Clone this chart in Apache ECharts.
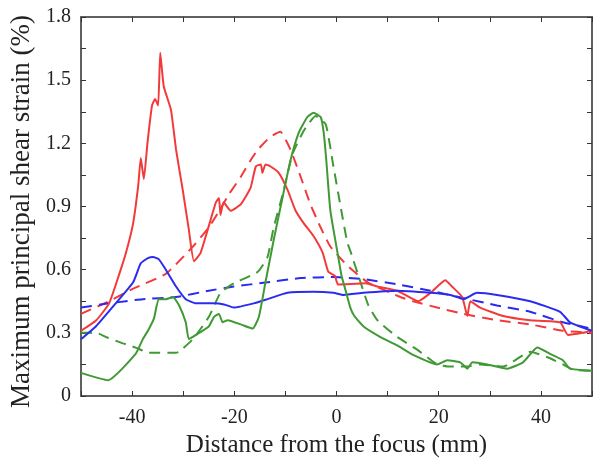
<!DOCTYPE html>
<html><head><meta charset="utf-8">
<script src="https://cdn.jsdelivr.net/npm/echarts@6/dist/echarts.min.js"></script>
<style>html,body{margin:0;padding:0;background:#fff}#c{width:601px;height:465px}</style>
</head><body><div id="c"></div>
<script>
const xTicks = [-40, -20, 0, 20, 40];
const yTicks = [0, 0.3, 0.6, 0.9, 1.2, 1.5, 1.8];

const redSolid = [[-50,0.31],[-47,0.36],[-44.5,0.44],[-42.5,0.58],[-41.2,0.68],[-39.8,0.82],[-38.8,1.0],[-38.3,1.13],[-37.7,1.03],[-37,1.2],[-36.1,1.38],[-35.5,1.41],[-34.9,1.38],[-34.5,1.63],[-33.8,1.47],[-32.4,1.36],[-31.4,1.17],[-30.1,0.98],[-28.9,0.79],[-27.9,0.64],[-26.6,0.68],[-25.2,0.79],[-23.6,0.92],[-23,0.94],[-22.7,0.86],[-22.1,0.92],[-20.7,0.88],[-18.75,0.91],[-16.8,0.99],[-15.8,1.09],[-14.8,1.10],[-14.5,1.06],[-13.9,1.10],[-12.9,1.09],[-11.3,1.06],[-9.6,0.98],[-8,0.88],[-6.4,0.82],[-4.5,0.76],[-2.7,0.68],[-1.6,0.59],[-0.3,0.57],[0.3,0.53],[5.7,0.535],[8,0.52],[11.9,0.50],[16,0.45],[18.4,0.49],[21.3,0.55],[22.6,0.52],[24.6,0.47],[25.6,0.38],[26.2,0.45],[28.1,0.42],[32.6,0.38],[37.9,0.36],[43.75,0.35],[45.3,0.29],[48.2,0.30],[50,0.31]];
const redDashed = [[-50,0.39],[-44.5,0.45],[-39.8,0.51],[-33.4,0.58],[-28.1,0.71],[-25,0.80],[-22.7,0.89],[-21,0.96],[-18.75,1.04],[-16.8,1.12],[-15.4,1.17],[-13,1.23],[-11,1.255],[-9,1.17],[-7,1.04],[-5.1,0.91],[-3.1,0.80],[-1.2,0.71],[2.1,0.62],[6.1,0.54],[12.5,0.47],[15,0.45],[19.7,0.42],[24.8,0.39],[31.4,0.36],[37.9,0.34],[44.3,0.31],[50,0.30]];
const blueSolid = [[-50,0.27],[-47.1,0.33],[-43.2,0.44],[-39.8,0.54],[-38.3,0.63],[-36.9,0.655],[-35.9,0.66],[-34.8,0.65],[-33.4,0.60],[-31.4,0.52],[-29.5,0.46],[-27.5,0.44],[-24.2,0.44],[-22,0.435],[-20.1,0.42],[-16.2,0.44],[-13.5,0.46],[-9.6,0.49],[-4.5,0.495],[-0.6,0.49],[1.4,0.48],[5.3,0.49],[11.9,0.50],[18.4,0.49],[22.3,0.48],[24.8,0.46],[27.5,0.49],[31.4,0.48],[37.9,0.45],[43.75,0.40],[45.7,0.35],[50,0.31]];
const blueDashed = [[-50,0.42],[-44.5,0.44],[-37.9,0.46],[-31.4,0.47],[-25,0.50],[-20.1,0.52],[-13.5,0.54],[-7,0.56],[-0.6,0.565],[5.3,0.555],[11.9,0.53],[18.4,0.50],[24.8,0.465],[31.4,0.43],[37.9,0.40],[44.3,0.35],[50,0.32]];
const greenSolid = [[-50,0.11],[-44.7,0.075],[-39.3,0.20],[-37.9,0.27],[-36.9,0.31],[-35.7,0.37],[-34.8,0.46],[-33.4,0.46],[-32,0.47],[-30.8,0.43],[-29.5,0.35],[-28.9,0.27],[-27.5,0.29],[-25,0.33],[-24,0.375],[-23,0.39],[-22.3,0.35],[-21.3,0.36],[-18.75,0.34],[-16.4,0.32],[-15.2,0.375],[-13.9,0.54],[-12.3,0.74],[-10.5,0.95],[-9,1.12],[-7.4,1.25],[-5.7,1.325],[-4.5,1.345],[-3.1,1.325],[-2.5,1.25],[-2,1.12],[-1.2,0.88],[0.2,0.68],[1.0,0.57],[1.8,0.50],[2.7,0.42],[3.5,0.38],[5.3,0.33],[8.6,0.28],[11.9,0.24],[15,0.195],[19.7,0.15],[21.7,0.17],[24.2,0.16],[25.6,0.13],[26.6,0.16],[29.5,0.15],[33.4,0.13],[36.5,0.16],[39.3,0.23],[41.8,0.20],[44.3,0.17],[45.7,0.13],[50,0.12]];
const greenDashed = [[-50,0.30],[-47,0.30],[-45.1,0.28],[-41.8,0.25],[-39.3,0.23],[-36.7,0.205],[-31.4,0.205],[-30.8,0.21],[-28.1,0.27],[-25,0.375],[-22.7,0.49],[-20.1,0.535],[-15.4,0.59],[-13.5,0.66],[-12.3,0.80],[-10.5,0.96],[-8.6,1.15],[-6.4,1.26],[-4.1,1.33],[-2.1,1.29],[-0.6,1.09],[0.8,0.90],[2.1,0.73],[2.7,0.69],[4.7,0.54],[6.25,0.43],[8,0.36],[11.9,0.28],[15.8,0.22],[19.7,0.15],[22.3,0.14],[25.6,0.14],[28.1,0.15],[32.6,0.14],[37.9,0.21],[41.2,0.185],[44.3,0.15],[46.3,0.125],[50,0.12]];

const RED = '#f23a3a', BLUE = '#2b2bf0', GREEN = '#3f9a33';
const FONT = '"Liberation Serif", "Times New Roman", serif';
const AX = '#606060';

function near(v, list){ return list.some(t => Math.abs(t - v) < 1e-6); }

const axisCommon = {
  axisLine: { show: true, onZero: false, lineStyle: { color: AX, width: 2 } },
  axisTick: { show: true, inside: true, length: 5, lineStyle: { color: '#333', width: 1 } },
  splitLine: { show: false }
};

function line(data, color, dashed){
  return { type: 'line', data: data, showSymbol: false, symbol: 'none', smooth: 0.15,
    lineStyle: { color: color, width: 2, type: dashed ? [11, 7] : 'solid' }, z: dashed ? 3 : 4 };
}

const chart = echarts.init(document.getElementById('c'), null, { renderer: 'canvas' });
chart.setOption({
  animation: false,
  backgroundColor: '#fff',
  grid: { left: 80, right: 9, top: 17, bottom: 69 },
  xAxis: [
    Object.assign({}, axisCommon, {
      type: 'value', min: -50, max: 50, interval: 10, position: 'bottom',
      name: 'Distance from the focus (mm)', nameLocation: 'middle', nameGap: 33,
      nameTextStyle: { fontFamily: FONT, fontSize: 25, color: '#222' },
      axisLabel: { fontFamily: FONT, fontSize: 20, color: '#222', margin: 12,
        formatter: v => near(v, xTicks) ? String(v) : '' }
    }),
    Object.assign({}, axisCommon, {
      type: 'value', min: -50, max: 50, interval: 10, position: 'top',
      axisLabel: { show: false }
    })
  ],
  yAxis: [
    Object.assign({}, axisCommon, {
      type: 'value', min: 0, max: 1.8, interval: 0.15, position: 'left',
      name: 'Maximum principal shear strain (%)', nameLocation: 'middle', nameGap: 46,
      nameTextStyle: { fontFamily: FONT, fontSize: 27, color: '#222', padding: [0, 10, 0, 0] },
      axisLabel: { fontFamily: FONT, fontSize: 20, color: '#222', margin: 10,
        formatter: v => near(Math.round(v*100)/100, yTicks) ? (v === 0 ? '0' : (Math.round(v*10)/10).toFixed(1)) : '' }
    }),
    Object.assign({}, axisCommon, {
      type: 'value', min: 0, max: 1.8, interval: 0.15, position: 'right',
      axisLabel: { show: false }
    })
  ],
  series: [
    line(redDashed, RED, true),
    line(blueDashed, BLUE, true),
    line(greenDashed, GREEN, true),
    line(redSolid, RED, false),
    line(blueSolid, BLUE, false),
    line(greenSolid, GREEN, false)
  ]
});
</script></body></html>
